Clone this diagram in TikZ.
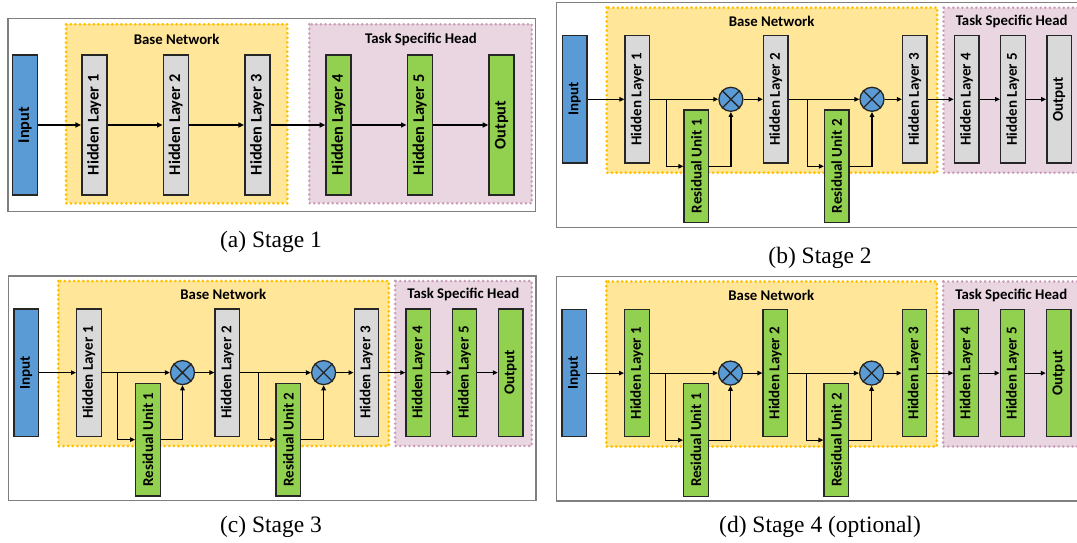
\documentclass[tikz,border=0pt]{standalone}
\usepackage{fontspec}
\setmainfont{Carlito}
\newfontfamily\capfont{Liberation Serif}
\usetikzlibrary{arrows.meta}
\definecolor{inblue}{HTML}{5B9BD5}
\definecolor{hgray}{HTML}{D9D9D9}
\definecolor{hgreen}{HTML}{92D050}
\definecolor{baseyel}{HTML}{FFE699}
\definecolor{basebord}{HTML}{FFC000}
\definecolor{headpink}{HTML}{E9D6E1}
\definecolor{headbord}{HTML}{C99BB8}
\definecolor{framegray}{HTML}{7F7F7F}
\definecolor{edgec}{HTML}{262626}
\tikzset{
  lay/.style={draw=edgec, line width=1.3pt, inner sep=0pt, minimum width=24.5pt,
    minimum height=127.3pt, font=\bfseries\fontsize{15}{17}\selectfont},
  inbox/.style={lay, fill=inblue},
  graybox/.style={lay, fill=hgray},
  greenbox/.style={lay, fill=hgreen},
  resbox/.style={greenbox, minimum height=112.7pt},
  bigbox/.style={line width=1.6pt, minimum width=25pt, minimum height=140pt,
    font=\bfseries\fontsize{16.3}{18}\selectfont},
  mult/.style={circle, draw=edgec, line width=1.3pt, fill=inblue, minimum size=24pt, inner sep=0pt},
  xline/.style={draw=edgec, line width=1.3pt},
  arr/.style={draw=black, line width=1.2pt, -{Triangle[length=5pt,width=4.5pt]}},
  bigarr/.style={draw=black, line width=1.8pt, -{Triangle[length=5.5pt,width=5pt]}},
  baseregion/.style={fill=baseyel, draw=basebord, line width=3pt, dash pattern=on 0pt off 4.6pt, line cap=round},
  headregion/.style={fill=headpink, draw=headbord, line width=2.8pt, dash pattern=on 0pt off 4.6pt, line cap=round},
  panelframe/.style={draw=framegray, line width=1.4pt, fill=white},
  regiontitle/.style={font=\bfseries\fontsize{14.8}{16}\selectfont},
  stagecap/.style={font=\capfont\fontsize{23.5}{26}\selectfont},
}
\newcommand\StagePanel[3]{%
  \draw[panelframe] (0,0) rectangle (527.5,224.5);
  \path[baseregion] (50,5) rectangle (380.5,170);
  \path[headregion] (386.8,5) rectangle (523.4,170);
  \node[regiontitle] (#1bt) at (215,18.7) {Base Network};
  \node[regiontitle] (#1ht) at (455,18.7) {Task Specific Head};
  \node[inbox] (#1in) at (17.9,96.6) {\rotatebox{90}{Input}};
  \node[#2] (#1h1) at (80.6,96.6) {\rotatebox{90}{Hidden Layer 1}};
  \node[resbox] (#1r1) at (139.6,163.6) {\rotatebox{90}{Residual Unit 1}};
  \node[mult] (#1m1) at (174.2,96.6) {};
  \node[#2] (#1h2) at (219,96.6) {\rotatebox{90}{Hidden Layer 2}};
  \node[resbox] (#1r2) at (280,163.6) {\rotatebox{90}{Residual Unit 2}};
  \node[mult] (#1m2) at (315.3,96.6) {};
  \node[#2] (#1h3) at (358.1,96.6) {\rotatebox{90}{Hidden Layer 3}};
  \node[#3] (#1h4) at (409.9,96.6) {\rotatebox{90}{Hidden Layer 4}};
  \node[#3] (#1h5) at (456.2,96.6) {\rotatebox{90}{Hidden Layer 5}};
  \node[#3] (#1out) at (502.4,96.6) {\rotatebox{90}{Output}};
  \draw[xline] (#1m1.north west) -- (#1m1.south east) (#1m1.north east) -- (#1m1.south west);
  \draw[xline] (#1m2.north west) -- (#1m2.south east) (#1m2.north east) -- (#1m2.south west);
  \coordinate (#1s1) at (109.4,96.6);
  \coordinate (#1s2) at (250.5,96.6);
  \draw[arr] (#1in) -- (#1h1);
  \draw[arr] (#1h1) -- (#1m1);
  \draw[arr] (#1s1) |- (#1r1.west);
  \draw[arr] (#1r1.east) -| (#1m1.south);
  \draw[arr] (#1m1) -- (#1h2);
  \draw[arr] (#1h2) -- (#1m2);
  \draw[arr] (#1s2) |- (#1r2.west);
  \draw[arr] (#1r2.east) -| (#1m2.south);
  \draw[arr] (#1m2) -- (#1h3);
  \draw[arr] (#1h3) -- (#1h4);
  \draw[arr] (#1h4) -- (#1h5);
  \draw[arr] (#1h5) -- (#1out);
}
\begin{document}
\begin{tikzpicture}[x=1pt,y=-1pt]
\useasboundingbox (0,0) rectangle (1077,543);
\clip (0,0) rectangle (1077,543);
\fill[white] (0,0) rectangle (1077,543);
% ---------- (a) Stage 1
\draw[panelframe] (8,18.3) rectangle (535.5,211.7);
\path[baseregion] (66,24.3) rectangle (287.3,203.3);
\path[headregion] (309.3,24.3) rectangle (531.7,203.3);
\node[regiontitle] (abt) at (176.7,39.3) {Base Network};
\node[regiontitle] (aht) at (421,39.3) {Task Specific Head};
\node[inbox,bigbox] (ain) at (25,125) {\rotatebox{90}{Input}};
\node[graybox,bigbox] (ah1) at (94.2,125) {\rotatebox{90}{Hidden Layer 1}};
\node[graybox,bigbox] (ah2) at (175.8,125) {\rotatebox{90}{Hidden Layer 2}};
\node[graybox,bigbox] (ah3) at (257.2,125) {\rotatebox{90}{Hidden Layer 3}};
\node[greenbox,bigbox] (ah4) at (338.5,125) {\rotatebox{90}{Hidden Layer 4}};
\node[greenbox,bigbox] (ah5) at (419.8,125) {\rotatebox{90}{Hidden Layer 5}};
\node[greenbox,bigbox] (aout) at (501.5,125) {\rotatebox{90}{Output}};
\draw[bigarr] (ain) -- (ah1);
\draw[bigarr] (ah1) -- (ah2);
\draw[bigarr] (ah2) -- (ah3);
\draw[bigarr] (ah3) -- (ah4);
\draw[bigarr] (ah4) -- (ah5);
\draw[bigarr] (ah5) -- (aout);
\node[stagecap] (capa) at (271,242) {(a) Stage 1};
% ---------- (b) Stage 2
\begin{scope}[shift={(556.7,2.7)}]
\StagePanel{b}{graybox}{graybox}
\end{scope}
\node[stagecap] (capb) at (820,258) {(b) Stage 2};
% ---------- (c) Stage 3
\begin{scope}[shift={(8.3,276)}]
\StagePanel{c}{graybox}{greenbox}
\end{scope}
\node[stagecap] (capc) at (271,527) {(c) Stage 3};
% ---------- (d) Stage 4
\begin{scope}[shift={(556.3,276.5)}]
\StagePanel{d}{greenbox}{greenbox}
\end{scope}
\node[stagecap] (capd) at (820,527) {(d) Stage 4 (optional)};
\end{tikzpicture}
\end{document}
